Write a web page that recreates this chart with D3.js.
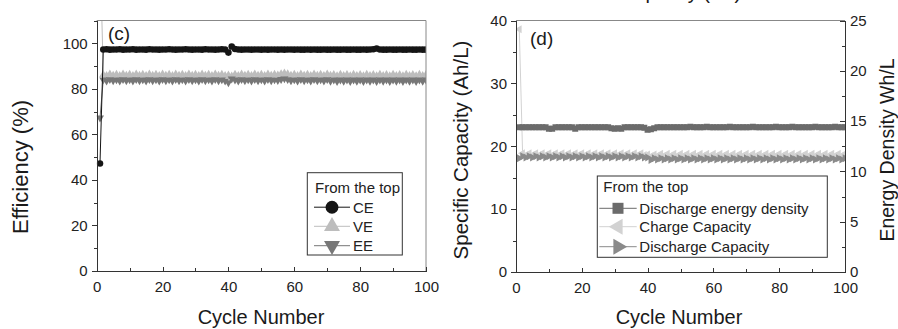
<!DOCTYPE html>
<html>
<head>
<meta charset="utf-8">
<script src="https://cdn.jsdelivr.net/npm/d3@7"></script>
<style>
  body { margin: 0; background: #fff; }
  svg { display: block; font-family: "Liberation Sans", Arial, Helvetica, sans-serif; }
  .axis path, .axis line { stroke: #333; shape-rendering: crispEdges; }
  .axis text { font-size: 15px; fill: #222; }
  .title { fill: #1a1a1a; }
</style>
</head>
<body>
<div id="visual-container"></div>
<script>
// cycle numbers 1..100 (x categories)
const cycles = d3.range(1, 101)

// panel (c) efficiency, %
const ceValues = [
  47.2, 97.3, 97.4, 97.2, 97.3, 97.3, 97.4, 97.2, 97.3, 97.3,
  97.4, 97.2, 97.3, 97.3, 97.2, 97.4, 97.3, 97.3, 97.2, 97.3,
  97.3, 97.4, 97.3, 97.2, 97.3, 97.3, 97.4, 97.3, 97.2, 97.3,
  97.3, 97.2, 97.4, 97.3, 97.3, 97.2, 97.3, 97.4, 97.3, 95.9,
  98.6, 97.5, 97.3, 97.2, 97.3, 97.3, 97.2, 97.3, 97.3, 97.2,
  97.3, 97.2, 97.3, 97.3, 97.2, 97.3, 97.2, 97.3, 97.3, 97.2,
  97.3, 97.2, 97.2, 97.3, 97.2, 97.3, 97.2, 97.2, 97.3, 97.2,
  97.2, 97.3, 97.2, 97.2, 97.3, 97.2, 97.2, 97.3, 97.2, 97.2,
  97.3, 97.2, 97.3, 97.4, 97.7, 97.3, 97.2, 97.2, 97.3, 97.2,
  97.2, 97.3, 97.2, 97.2, 97.3, 97.2, 97.2, 97.3, 97.2, 97.2
]
const veValues = [
  143.0, 86.2, 85.8, 86.4, 85.9, 86.3, 85.8, 86.4, 85.9, 86.3,
  85.8, 86.4, 85.9, 86.3, 85.8, 86.4, 85.9, 86.3, 85.8, 86.4,
  85.9, 86.3, 85.8, 86.4, 85.9, 86.3, 85.8, 86.4, 85.9, 86.3,
  85.8, 86.4, 85.9, 86.3, 85.8, 86.4, 85.9, 86.3, 85.8, 86.0,
  85.6, 86.3, 85.8, 86.4, 85.9, 86.3, 85.8, 86.4, 85.9, 86.3,
  85.8, 86.4, 85.9, 86.3, 86.0, 86.6, 86.9, 86.5, 85.9, 86.3,
  85.8, 86.4, 85.9, 86.3, 85.8, 86.4, 85.9, 86.3, 85.8, 86.4,
  85.9, 86.2, 85.7, 86.3, 85.8, 86.2, 85.7, 86.3, 85.8, 86.2,
  85.7, 86.3, 85.8, 86.2, 85.7, 86.3, 85.8, 86.2, 85.7, 86.3,
  85.8, 86.2, 85.7, 86.3, 85.8, 86.2, 85.7, 86.3, 85.8, 86.2
]
const eeValues = [
  67.3, 84.0, 83.5, 84.1, 83.6, 84.0, 83.5, 84.1, 83.6, 84.0,
  83.5, 84.1, 83.6, 84.0, 83.5, 84.1, 83.6, 84.0, 83.5, 84.1,
  83.6, 84.0, 83.5, 84.1, 83.6, 84.0, 83.5, 84.1, 83.6, 84.0,
  83.5, 84.1, 83.6, 84.0, 83.5, 84.1, 83.6, 84.0, 83.5, 82.7,
  84.4, 83.9, 83.5, 84.1, 83.6, 84.0, 83.5, 84.1, 83.6, 84.0,
  83.5, 84.1, 83.6, 84.0, 83.7, 84.2, 84.5, 84.1, 83.6, 84.0,
  83.5, 84.1, 83.6, 84.0, 83.5, 84.1, 83.6, 84.0, 83.5, 84.1,
  83.4, 83.9, 83.3, 83.9, 83.4, 83.9, 83.3, 83.9, 83.4, 83.9,
  83.3, 83.9, 83.4, 83.9, 83.3, 83.9, 83.4, 83.9, 83.3, 83.9,
  83.4, 83.9, 83.3, 83.9, 83.4, 83.9, 83.3, 83.9, 83.4, 83.9
]

// panel (d) capacity, Ah/L  and energy density, Wh/L (right axis)
const energyValues = [
  14.4, 14.4, 14.4, 14.4, 14.4, 14.4, 14.4, 14.4, 14.4, 14.25,
  14.25, 14.4, 14.4, 14.4, 14.4, 14.4, 14.4, 14.25, 14.4, 14.4,
  14.4, 14.4, 14.4, 14.4, 14.4, 14.4, 14.4, 14.4, 14.3, 14.25,
  14.3, 14.25, 14.4, 14.4, 14.4, 14.4, 14.4, 14.4, 14.35, 14.15,
  14.2, 14.3, 14.4, 14.4, 14.4, 14.4, 14.4, 14.4, 14.4, 14.4,
  14.4, 14.4, 14.45, 14.4, 14.4, 14.4, 14.4, 14.45, 14.4, 14.4,
  14.4, 14.4, 14.4, 14.4, 14.45, 14.4, 14.4, 14.4, 14.4, 14.4,
  14.4, 14.45, 14.4, 14.4, 14.4, 14.4, 14.4, 14.4, 14.45, 14.4,
  14.4, 14.4, 14.4, 14.45, 14.4, 14.4, 14.4, 14.4, 14.4, 14.4,
  14.45, 14.4, 14.4, 14.4, 14.4, 14.4, 14.45, 14.4, 14.4, 14.4
]
const chargeValues = [
  38.6, 18.9, 18.6, 18.9, 18.6, 18.9, 18.6, 18.9, 18.6, 18.9,
  18.6, 18.9, 18.6, 18.9, 18.6, 18.9, 18.6, 18.9, 18.6, 18.9,
  18.6, 18.9, 18.6, 18.9, 18.6, 18.9, 18.6, 18.9, 18.6, 18.9,
  18.6, 18.9, 18.6, 18.9, 18.6, 18.9, 18.6, 18.9, 18.6, 18.7,
  18.4, 18.7, 18.5, 18.8, 18.5, 18.8, 18.5, 18.8, 18.5, 18.8,
  18.5, 18.8, 18.5, 18.8, 18.5, 18.8, 18.5, 18.8, 18.5, 18.8,
  18.5, 18.8, 18.5, 18.8, 18.5, 18.8, 18.5, 18.8, 18.5, 18.8,
  18.5, 18.8, 18.5, 18.8, 18.5, 18.8, 18.5, 18.8, 18.5, 18.8,
  18.5, 18.8, 18.5, 18.8, 18.5, 18.8, 18.5, 18.8, 18.5, 18.8,
  18.5, 18.8, 18.5, 18.8, 18.5, 18.8, 18.5, 18.8, 18.5, 18.8
]
const dischargeValues = [
  18.1, 18.4, 18.2, 18.4, 18.2, 18.4, 18.2, 18.4, 18.2, 18.4,
  18.2, 18.4, 18.2, 18.4, 18.2, 18.4, 18.2, 18.4, 18.2, 18.4,
  18.2, 18.4, 18.2, 18.4, 18.2, 18.4, 18.2, 18.4, 18.2, 18.4,
  18.2, 18.4, 18.2, 18.4, 18.2, 18.4, 18.2, 18.4, 18.2, 18.2,
  17.8, 18.1, 17.9, 18.1, 17.9, 18.1, 17.9, 18.1, 17.9, 18.1,
  17.9, 18.1, 17.9, 18.1, 17.9, 18.1, 17.9, 18.1, 17.9, 18.1,
  17.9, 18.1, 17.9, 18.1, 17.9, 18.1, 17.9, 18.1, 17.9, 18.1,
  17.9, 18.1, 17.9, 18.1, 17.9, 18.1, 17.9, 18.1, 17.9, 18.1,
  17.9, 18.1, 17.9, 18.1, 17.9, 18.1, 17.9, 18.1, 17.9, 18.1,
  17.9, 18.1, 17.9, 18.1, 17.9, 18.1, 17.9, 18.1, 17.9, 18.1
]

// tick labels
const xTicks = [0, 20, 40, 60, 80, 100]
const xMinor = [10, 30, 50, 70, 90]
const effTicks = [0, 20, 40, 60, 80, 100]
const effMinor = [10, 30, 50, 70, 90]
const capTicks = [0, 10, 20, 30, 40]
const capMinor = [5, 15, 25, 35]
const whTicks = [0, 5, 10, 15, 20, 25]
const whMinor = [2.5, 7.5, 12.5, 17.5, 22.5]

const width = 898
const height = 329

const svg = d3.select('#visual-container')
  .append('svg')
  .attr('width', width)
  .attr('height', height)

const defs = svg.append('defs')

// scales
const xL = d3.scaleLinear().domain([0, 100]).range([96.7, 426])
const yL = d3.scaleLinear().domain([0, 110]).range([271, 20.5])
const xR = d3.scaleLinear().domain([0, 100]).range([516, 845])
const yR = d3.scaleLinear().domain([0, 40]).range([272, 20.5])
const yR2 = d3.scaleLinear().domain([0, 25]).range([272, 20.5])

const clip = (id, x, y) => {
  defs.append('clipPath').attr('id', id)
    .append('rect')
    .attr('x', x.range()[0]).attr('y', y.range()[1])
    .attr('width', x.range()[1] - x.range()[0])
    .attr('height', y.range()[0] - y.range()[1])
}
clip('clipL', xL, yL)
clip('clipR', xR, yR)

const drawSeries = (g, xs, ys, values, color, symbolType, size, rot) => {
  const pts = cycles.map((c, i) => [c, values[i]])
  g.append('path')
    .datum(pts)
    .attr('fill', 'none')
    .attr('stroke', color)
    .attr('stroke-width', 1)
    .attr('d', d3.line().x(d => xs(d[0])).y(d => ys(d[1])))
  const sym = d3.symbol().type(symbolType).size(size)
  g.selectAll(null)
    .data(pts)
    .enter()
    .append('path')
    .attr('d', sym)
    .attr('fill', color)
    .attr('transform', d => `translate(${xs(d[0])},${ys(d[1])}) rotate(${rot})`)
}

// frame lines (top / right)
const frameLine = (x1, y1, x2, y2, color) => {
  svg.append('line')
    .attr('x1', x1).attr('y1', y1).attr('x2', x2).attr('y2', y2)
    .attr('stroke', color).attr('stroke-width', 1)
}

// ---------- panel (c) ----------
const gL = svg.append('g').attr('clip-path', 'url(#clipL)')
drawSeries(gL, xL, yL, veValues, '#bdbdbd', d3.symbolTriangle, 28, 0)
drawSeries(gL, xL, yL, eeValues, '#777777', d3.symbolTriangle, 28, 180)
drawSeries(gL, xL, yL, ceValues, '#151515', d3.symbolCircle, 34, 0)

frameLine(xL(0), yL(110), xL(100), yL(110), '#888')
frameLine(xL(100), yL(110), xL(100), yL(0), '#888')

const addAxis = (axis, tx, ty) => {
  return svg.append('g')
    .attr('class', 'axis')
    .attr('transform', `translate(${tx},${ty})`)
    .call(axis)
}

addAxis(d3.axisLeft(yL).tickValues(effMinor).tickSize(3).tickFormat(''), xL(0), 0)
addAxis(d3.axisLeft(yL).tickValues(effTicks).tickSizeInner(5).tickSizeOuter(0).tickPadding(4), xL(0), 0)
addAxis(d3.axisBottom(xL).tickValues(xMinor).tickSize(-3).tickFormat(''), 0, yL(0))
addAxis(d3.axisBottom(xL).tickValues(xTicks).tickSizeInner(-4).tickSizeOuter(0).tickPadding(10), 0, yL(0))

svg.append('text')
  .attr('x', 108).attr('y', 39.5)
  .attr('font-size', 19).attr('class', 'title')
  .text('(c)')

svg.append('text')
  .attr('class', 'title')
  .attr('font-size', 22)
  .attr('text-anchor', 'middle')
  .attr('transform', 'translate(28,167) rotate(-90)')
  .text('Efficiency (%)')

svg.append('text')
  .attr('class', 'title')
  .attr('font-size', 20)
  .attr('text-anchor', 'middle')
  .attr('x', 261).attr('y', 324)
  .text('Cycle Number')

// legend (c)
const legL = svg.append('g')
legL.append('rect')
  .attr('x', 307.3).attr('y', 172.7).attr('width', 95).attr('height', 82.3)
  .attr('fill', '#fff').attr('stroke', '#333').attr('stroke-width', 1)
legL.append('text').attr('x', 315).attr('y', 192.5).attr('font-size', 15).attr('fill', '#222')
  .text('From the top')
const legendC = [
  { name: 'CE', color: '#151515', type: d3.symbolCircle, size: 130, rot: 0, y: 207.2 },
  { name: 'VE', color: '#bdbdbd', type: d3.symbolTriangle, size: 110, rot: 0, y: 226.3 },
  { name: 'EE', color: '#777777', type: d3.symbolTriangle, size: 110, rot: 180, y: 245.7 }
]
legendC.forEach(d => {
  legL.append('line').attr('x1', 314).attr('x2', 350).attr('y1', d.y).attr('y2', d.y)
    .attr('stroke', d.color).attr('stroke-width', 1)
  legL.append('path').attr('d', d3.symbol().type(d.type).size(d.size))
    .attr('fill', d.color)
    .attr('transform', `translate(332,${d.y}) rotate(${d.rot})`)
  legL.append('text').attr('x', 353).attr('y', d.y + 5.4).attr('font-size', 15).attr('fill', '#222')
    .text(d.name)
})

// ---------- panel (d) ----------
const gR = svg.append('g').attr('clip-path', 'url(#clipR)')
drawSeries(gR, xR, yR, chargeValues, '#d2d2d2', d3.symbolTriangle, 28, -90)
drawSeries(gR, xR, yR, dischargeValues, '#8a8a8a', d3.symbolTriangle, 28, 90)
drawSeries(gR, xR, yR2, energyValues, '#6b6b6b', d3.symbolSquare, 36, 0)

frameLine(xR(0), yR(40), xR(100), yR(40), '#888')

addAxis(d3.axisLeft(yR).tickValues(capMinor).tickSize(3).tickFormat(''), xR(0), 0)
addAxis(d3.axisLeft(yR).tickValues(capTicks).tickSizeInner(5).tickSizeOuter(0).tickPadding(4), xR(0), 0)
addAxis(d3.axisBottom(xR).tickValues(xMinor).tickSize(-3).tickFormat(''), 0, yR(0))
addAxis(d3.axisBottom(xR).tickValues(xTicks).tickSizeInner(-4).tickSizeOuter(0).tickPadding(10), 0, yR(0))
addAxis(d3.axisRight(yR2).tickValues(whMinor).tickSize(-3).tickFormat(''), xR(100), 0)
addAxis(d3.axisRight(yR2).tickValues(whTicks).tickSizeInner(-5).tickSizeOuter(0).tickPadding(5), xR(100), 0)

// caption of the figure above, cut off at the top edge (only descenders show)
svg.append('text')
  .attr('class', 'title')
  .attr('font-size', 20)
  .attr('x', 620).attr('y', -1)
  .text('Capacity (Ah)')

svg.append('text')
  .attr('x', 530).attr('y', 44.5)
  .attr('font-size', 19).attr('class', 'title')
  .text('(d)')

svg.append('text')
  .attr('class', 'title')
  .attr('font-size', 20.5)
  .attr('text-anchor', 'middle')
  .attr('transform', 'translate(468,150) rotate(-90)')
  .text('Specific Capacity (Ah/L)')

svg.append('text')
  .attr('class', 'title')
  .attr('font-size', 19.5)
  .attr('text-anchor', 'middle')
  .attr('transform', 'translate(893.5,150) rotate(-90)')
  .text('Energy Density Wh/L')

svg.append('text')
  .attr('class', 'title')
  .attr('font-size', 20)
  .attr('text-anchor', 'middle')
  .attr('x', 679).attr('y', 324)
  .text('Cycle Number')

// legend (d)
const legR = svg.append('g')
legR.append('rect')
  .attr('x', 597.3).attr('y', 176).attr('width', 230).attr('height', 81.3)
  .attr('fill', '#fff').attr('stroke', '#333').attr('stroke-width', 1)
legR.append('text').attr('x', 603.3).attr('y', 191.7).attr('font-size', 15).attr('fill', '#222')
  .text('From the top')
const legendD = [
  { name: 'Discharge energy density', color: '#6b6b6b', type: d3.symbolSquare, size: 121, rot: 0, y: 208.3 },
  { name: 'Charge Capacity', color: '#d2d2d2', type: d3.symbolTriangle, size: 110, rot: -90, y: 226.7 },
  { name: 'Discharge Capacity', color: '#8a8a8a', type: d3.symbolTriangle, size: 110, rot: 90, y: 246.7 }
]
legendD.forEach(d => {
  legR.append('line').attr('x1', 599.3).attr('x2', 636.7).attr('y1', d.y).attr('y2', d.y)
    .attr('stroke', d.color).attr('stroke-width', 1)
  legR.append('path').attr('d', d3.symbol().type(d.type).size(d.size))
    .attr('fill', d.color)
    .attr('transform', `translate(618,${d.y}) rotate(${d.rot})`)
  legR.append('text').attr('x', 639.3).attr('y', d.y + 5.4).attr('font-size', 15).attr('fill', '#222')
    .text(d.name)
})
</script>
</body>
</html>
